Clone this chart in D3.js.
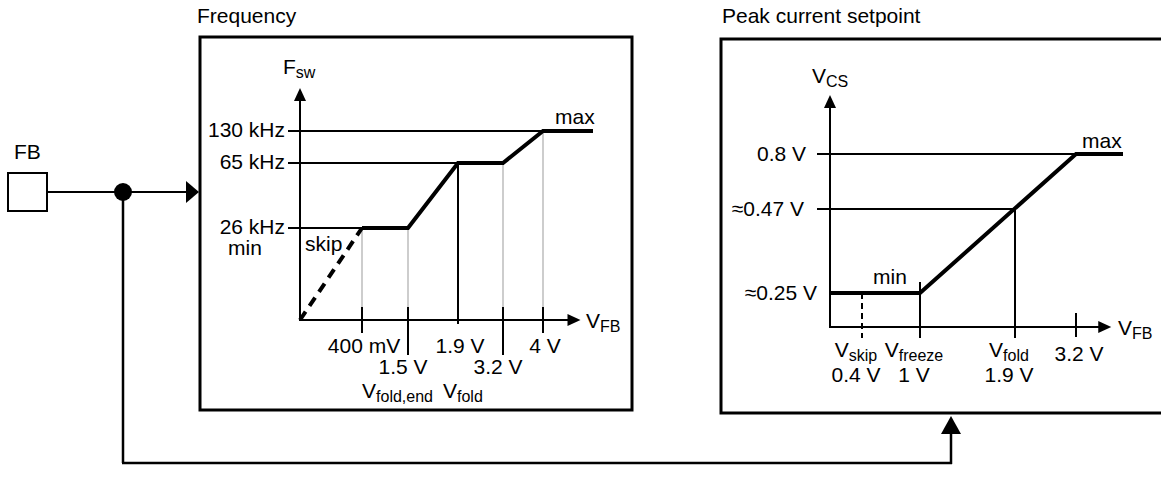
<!DOCTYPE html>
<html>
<head>
<meta charset="utf-8">
<script src="https://cdn.jsdelivr.net/npm/d3@7"></script>
<style>
    body { margin: 0; background: #fff; }
    text { font-family: 'Liberation Sans', Arial, sans-serif; fill: #000; }
</style>
</head>
<body>
<div id="chart"></div>
<script>
const width = 1161;
const height = 495;
const fontSize = '21px';

// Frequency panel: breakpoints on V_FB (V) and F_sw levels (kHz)
const freqVfb = [0.4, 1.5, 1.9, 3.2, 4];
const freqTickLabels = ['400 mV', '1.5 V', '1.9 V', '3.2 V', '4 V'];
const freqLevels = [26, 65, 130];
const freqLevelLabels = ['26 kHz', '65 kHz', '130 kHz'];
const freqSkip = [[0, 0], [0.4, 26]];
const freqCurve = [[0.4, 26], [1.5, 26], [1.9, 65], [3.2, 65], [4, 130], [5, 130]];

// Peak current panel: breakpoints on V_FB (V) and V_CS levels (V)
const csVfb = [0.4, 1, 1.9, 3.2];
const csNames = ['skip', 'freeze', 'fold', null];
const csTickLabels = ['0.4 V', '1 V', '1.9 V', '3.2 V'];
const csLevels = [0.25, 0.47, 0.8];
const csLevelLabels = ['\u22480.25 V', '\u22480.47 V', '0.8 V'];
const csCurve = [[0, 0.25], [1, 0.25], [3.2, 0.8], [4, 0.8]];

const svg = d3
    .select('#chart')
    .append('svg')
    .attr('width', width)
    .attr('height', height)
    .style('background-color', 'white');

// schematic (piecewise) scales
const fx = d3.scaleLinear().domain([0, 0.4, 1.5, 1.9, 3.2, 4, 5]).range([300, 362, 408, 458, 503, 543, 593]);
const fy = d3.scaleLinear().domain([0, 26, 65, 130, 200]).range([320, 228, 163, 131, 88]);
const cx = d3.scaleLinear().domain([0, 0.4, 1, 1.9, 3.2, 4]).range([830, 862, 920, 1015, 1076, 1123]);
const cy = d3.scaleLinear().domain([0, 0.25, 0.47, 0.8, 1.1]).range([327, 293, 209, 154, 95]);

function arrowHead(g, x, y, dir, len, half) {
    let pts;
    if (dir === 'right') pts = [[x, y], [x - len, y - half], [x - len, y + half]];
    else pts = [[x, y], [x - half, y + len], [x + half, y + len]];
    g.append('path').attr('d', d3.line()(pts) + 'Z').attr('fill', 'black');
}

function label(g, x, y, main, sub, anchor) {
    const t = g
        .append('text')
        .attr('x', x)
        .attr('y', y)
        .attr('text-anchor', anchor || 'start')
        .style('font-size', fontSize);
    t.append('tspan').text(main);
    if (sub) t.append('tspan').attr('dy', 4).style('font-size', '16px').text(sub);
    return t;
}

function seg(g, x1, y1, x2, y2, w, col) {
    return g
        .append('line')
        .attr('x1', x1)
        .attr('y1', y1)
        .attr('x2', x2)
        .attr('y2', y2)
        .attr('stroke', col || 'black')
        .attr('stroke-width', w);
}

// ---------- FB input and feedback wiring ----------
const wire = svg.append('g');
wire.append('rect').attr('x', 8).attr('y', 173).attr('width', 39).attr('height', 38)
    .attr('fill', 'white').attr('stroke', 'black').attr('stroke-width', 2);
label(wire, 14, 159, 'FB');
seg(wire, 47, 192, 190, 192, 2);
arrowHead(wire, 199, 192, 'right', 13, 11);
seg(wire, 123, 192, 123, 463, 2.5);
seg(wire, 122, 463, 952, 463, 2.5);
seg(wire, 951, 464, 951, 428, 2.5);
arrowHead(wire, 951, 416, 'up', 18, 10);
wire.append('circle').attr('cx', 123).attr('cy', 192).attr('r', 9).attr('fill', 'black');

// ---------- Frequency panel ----------
const left = svg.append('g');
left.append('text').attr('x', 197).attr('y', 23).style('font-size', fontSize).text('Frequency');
left.append('rect').attr('x', 200).attr('y', 37).attr('width', 432).attr('height', 373)
    .attr('fill', 'none').attr('stroke', 'black').attr('stroke-width', 3);

// grey drop lines
freqVfb.forEach((v) => {
    if (v === 1.9) return;
    const lvl = v <= 1.5 ? 26 : v === 3.2 ? 65 : 130;
    seg(left, fx(v), fy(lvl), fx(v), fy(0), 1.5, '#bdbdbd');
});

// reference levels
const levelEnds = [0.4, 1.9, 4];
freqLevels.forEach((lv, i) => {
    seg(left, fx(0) - 12, fy(lv), fx(levelEnds[i]), fy(lv), 2);
    label(left, fx(0) - 15, fy(lv) + 6, freqLevelLabels[i], null, 'end');
});
left.append('text').attr('x', 245).attr('y', fy(26) + 27).attr('text-anchor', 'middle')
    .style('font-size', fontSize).text('min');

// axes
seg(left, fx(0), fy(0), fx(0), fy(200) + 8, 2);
arrowHead(left, fx(0), fy(200), 'up', 13, 6);
seg(left, fx(0) - 1, fy(0), fx(4.75) - 8, fy(0), 2);
arrowHead(left, fx(4.75), fy(0), 'right', 13, 6);
label(left, 283, 74, 'F', 'sw');
label(left, 586, 328, 'V', 'FB');

// ticks
freqVfb.forEach((v, i) => {
    const longTick = i % 2 === 1;
    if (v === 1.9) {
        seg(left, fx(v), fy(65), fx(v), fy(0) + 4, 2);
    } else {
        seg(left, fx(v), fy(0) - 13, fx(v), fy(0) + (longTick ? 35 : 13), 2);
    }
    left.append('text')
        .attr('x', fx(v) + (longTick ? -5 : 2))
        .attr('y', longTick ? 374 : 353)
        .attr('text-anchor', 'middle')
        .style('font-size', fontSize)
        .text(freqTickLabels[i]);
});
label(left, fx(1.5) + 25, 398, 'V', 'fold,end', 'end');
label(left, fx(1.9) - 15, 398, 'V', 'fold');

// curve
const fline = d3.line().x((d) => fx(d[0])).y((d) => fy(d[1]));
left.append('path').attr('d', fline(freqSkip)).attr('fill', 'none')
    .attr('stroke', 'black').attr('stroke-width', 4).attr('stroke-dasharray', '10,7');
left.append('path').attr('d', fline(freqCurve)).attr('fill', 'none')
    .attr('stroke', 'black').attr('stroke-width', 4).attr('stroke-linejoin', 'miter');
left.append('text').attr('x', 305).attr('y', 251).style('font-size', fontSize).text('skip');
left.append('text').attr('x', 555).attr('y', 124).style('font-size', fontSize).text('max');

// ---------- Peak current panel ----------
const right = svg.append('g');
right.append('text').attr('x', 722).attr('y', 23).style('font-size', fontSize).text('Peak current setpoint');
right.append('rect').attr('x', 721).attr('y', 39).attr('width', 470).attr('height', 374)
    .attr('fill', 'none').attr('stroke', 'black').attr('stroke-width', 3);

// reference levels
const csEnds = [0, 1.9, 3.2];
csLevels.forEach((lv, i) => {
    const x0 = i === 0 ? cx(0) : cx(0) - 13;
    seg(right, x0, cy(lv), cx(csEnds[i]), cy(lv), 2);
    label(right, cx(0) - (i === 0 ? 13 : 28 - i * 2), cy(lv) + 7, csLevelLabels[i], null, 'end');
});

// axes
seg(right, cx(0), cy(0), cx(0), cy(1.1) + 8, 2);
arrowHead(right, cx(0), cy(1.1), 'up', 13, 6);
seg(right, cx(0) - 1, cy(0), cx(3.8) - 8, cy(0), 2);
arrowHead(right, cx(3.8), cy(0), 'right', 13, 6);
label(right, 812, 83, 'V', 'CS');
label(right, 1118, 335, 'V', 'FB');

// ticks and drop lines
csVfb.forEach((v, i) => {
    if (v === 0.4) {
        seg(right, cx(v), cy(0.25), cx(v), cy(0) + 11, 2).attr('stroke-dasharray', '6,4');
    } else if (v === 1) {
        seg(right, cx(v), cy(0.25) - 11, cx(v), cy(0) + 11, 2);
    } else if (v === 1.9) {
        seg(right, cx(v), cy(0.47), cx(v), cy(0) + 11, 2);
    } else {
        seg(right, cx(v), cy(0) - 14, cx(v), cy(0) + 10, 2);
    }
    if (csNames[i]) {
        label(right, cx(v) - 6, 357, 'V', csNames[i], 'middle');
        right.append('text').attr('x', cx(v) - 6).attr('y', 382).attr('text-anchor', 'middle')
            .style('font-size', fontSize).text(csTickLabels[i]);
    } else {
        right.append('text').attr('x', cx(v) + 3).attr('y', 361).attr('text-anchor', 'middle')
            .style('font-size', fontSize).text(csTickLabels[i]);
    }
});

// curve
const cline = d3.line().x((d) => cx(d[0])).y((d) => cy(d[1]));
right.append('path').attr('d', cline(csCurve)).attr('fill', 'none')
    .attr('stroke', 'black').attr('stroke-width', 4).attr('stroke-linejoin', 'miter');
right.append('text').attr('x', 873).attr('y', 284).style('font-size', fontSize).text('min');
right.append('text').attr('x', 1082).attr('y', 148).style('font-size', fontSize).text('max');
</script>
</body>
</html>
